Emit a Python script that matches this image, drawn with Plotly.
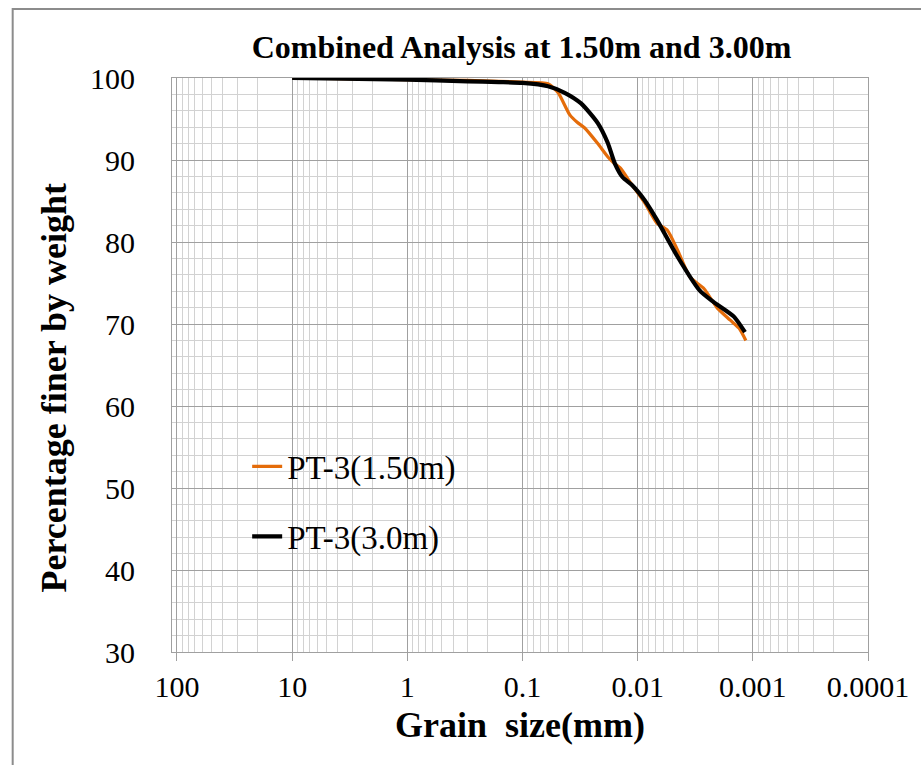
import plotly.graph_objects as go

# Grain size (mm) and percentage finer
orange_d = [10, 1, 0.3, 0.16, 0.1, 0.06, 0.049, 0.0388, 0.0335, 0.0288, 0.0222, 0.0182,
            0.016, 0.0141, 0.0115, 0.0087, 0.0068, 0.0055, 0.0045, 0.0035, 0.00265,
            0.00205, 0.00158, 0.00132, 0.00115]
orange_v = [100, 99.8, 99.7, 99.6, 99.5, 99.3, 98.2, 95.5, 94.6, 93.9, 92.0, 90.4,
            89.6, 89.0, 87.2, 84.8, 82.3, 81.4, 79.0, 75.7, 74.3,
            72.0, 70.5, 69.5, 68.0]

black_d = [10, 1, 0.3, 0.16, 0.1, 0.06, 0.043, 0.031, 0.0222, 0.0182, 0.0158, 0.0135,
           0.0111, 0.0087, 0.0068, 0.0045, 0.0029, 0.0022, 0.00146, 0.00117]
black_v = [100, 99.8, 99.6, 99.5, 99.4, 99.0, 98.2, 96.9, 94.5, 92.1, 89.6, 87.9,
           86.9, 85.1, 82.7, 78.2, 74.1, 72.7, 70.9, 69.0]

series_names = ["PT-3(1.50m)", "PT-3(3.0m)"]
x_tickvals = [100, 10, 1, 0.1, 0.01, 0.001, 0.0001]
x_ticktext = ["100", "10", "1", "0.1", "0.01", "0.001", "0.0001"]
y_tickvals = [30, 40, 50, 60, 70, 80, 90, 100]

title_text = "Combined Analysis at 1.50m and 3.00m"
x_title = "Grain  size(mm)"
y_title = "Percentage finer by weight"

# minor grid positions: 2..9 within each decade
x_minor = [m * 10.0 ** e for e in range(-4, 2) for m in range(2, 10)]

FONT = "Liberation Serif"
MAJOR = "#a0a0a0"
MINOR = "#d2d2d2"

fig = go.Figure()
fig.add_trace(go.Scatter(x=orange_d, y=orange_v, mode="lines", name=series_names[0],
                         legendgroup="a",
                         line=dict(color="#E46C0A", width=3.2, shape="spline", smoothing=0.6)))
fig.add_trace(go.Scatter(x=black_d, y=black_v, mode="lines", name=series_names[1],
                         legendgroup="b",
                         line=dict(color="#000000", width=4.2, shape="spline", smoothing=0.6)))

fig.update_layout(
    width=921, height=765,
    margin=dict(l=172, r=50, t=78, b=113),
    paper_bgcolor="white", plot_bgcolor="white",
    font=dict(family=FONT, color="black"),
    title=dict(text="<b>" + title_text + "</b>", x=0.5662, xanchor="center",
               y=1 - 47 / 765, yanchor="middle", yref="container",
               font=dict(family=FONT, size=32, color="black")),
    showlegend=True,
    legend=dict(x=0.108, y=0.372, xanchor="left", yanchor="top",
                bgcolor="rgba(0,0,0,0)", font=dict(family=FONT, size=33),
                tracegroupgap=24),
    xaxis=dict(type="log", autorange=False, range=[2.043, -4],
               tickvals=x_tickvals, ticktext=x_ticktext,
               ticks="outside", ticklen=8, tickcolor=MAJOR, tickwidth=1,
               tickfont=dict(family=FONT, size=30),
               showgrid=True, gridcolor=MAJOR, gridwidth=1,
               minor=dict(tickmode="array", tickvals=x_minor, showgrid=True,
                          gridcolor=MINOR, gridwidth=1, ticks=""),
               showline=True, linecolor=MAJOR, linewidth=1, mirror=True,
               zeroline=False),
    yaxis=dict(range=[30, 100], autorange=False, tickvals=y_tickvals,
               tickfont=dict(family=FONT, size=30),
               ticks="", ticklabelstandoff=30,
               showgrid=True, gridcolor=MAJOR, gridwidth=1,
               minor=dict(dtick=2, showgrid=True, gridcolor=MINOR, gridwidth=1),
               showline=True, linecolor=MAJOR, linewidth=1, mirror=True,
               zeroline=False),
    annotations=[
        dict(text="<b>" + x_title + "</b>", xref="paper", yref="paper",
             x=0.5, y=(652 - 725) / 574, xanchor="center", yanchor="middle",
             showarrow=False, font=dict(family=FONT, size=36, color="black")),
        dict(text="<b>" + y_title + "</b>", xref="paper", yref="paper",
             x=(53 - 172) / 699, y=(652 - 388) / 574, xanchor="center", yanchor="middle",
             textangle=-90, showarrow=False, font=dict(family=FONT, size=36, color="black")),
    ],
    shapes=[
        dict(type="rect", xref="paper", yref="paper",
             x0=(12 - 172) / 699, x1=(930 - 172) / 699,
             y0=(652 - 775) / 574, y1=(652 - 9) / 574,
             line=dict(color="#8c8c8c", width=2), layer="below"),
    ],
)

fig.write_html("out.html")
